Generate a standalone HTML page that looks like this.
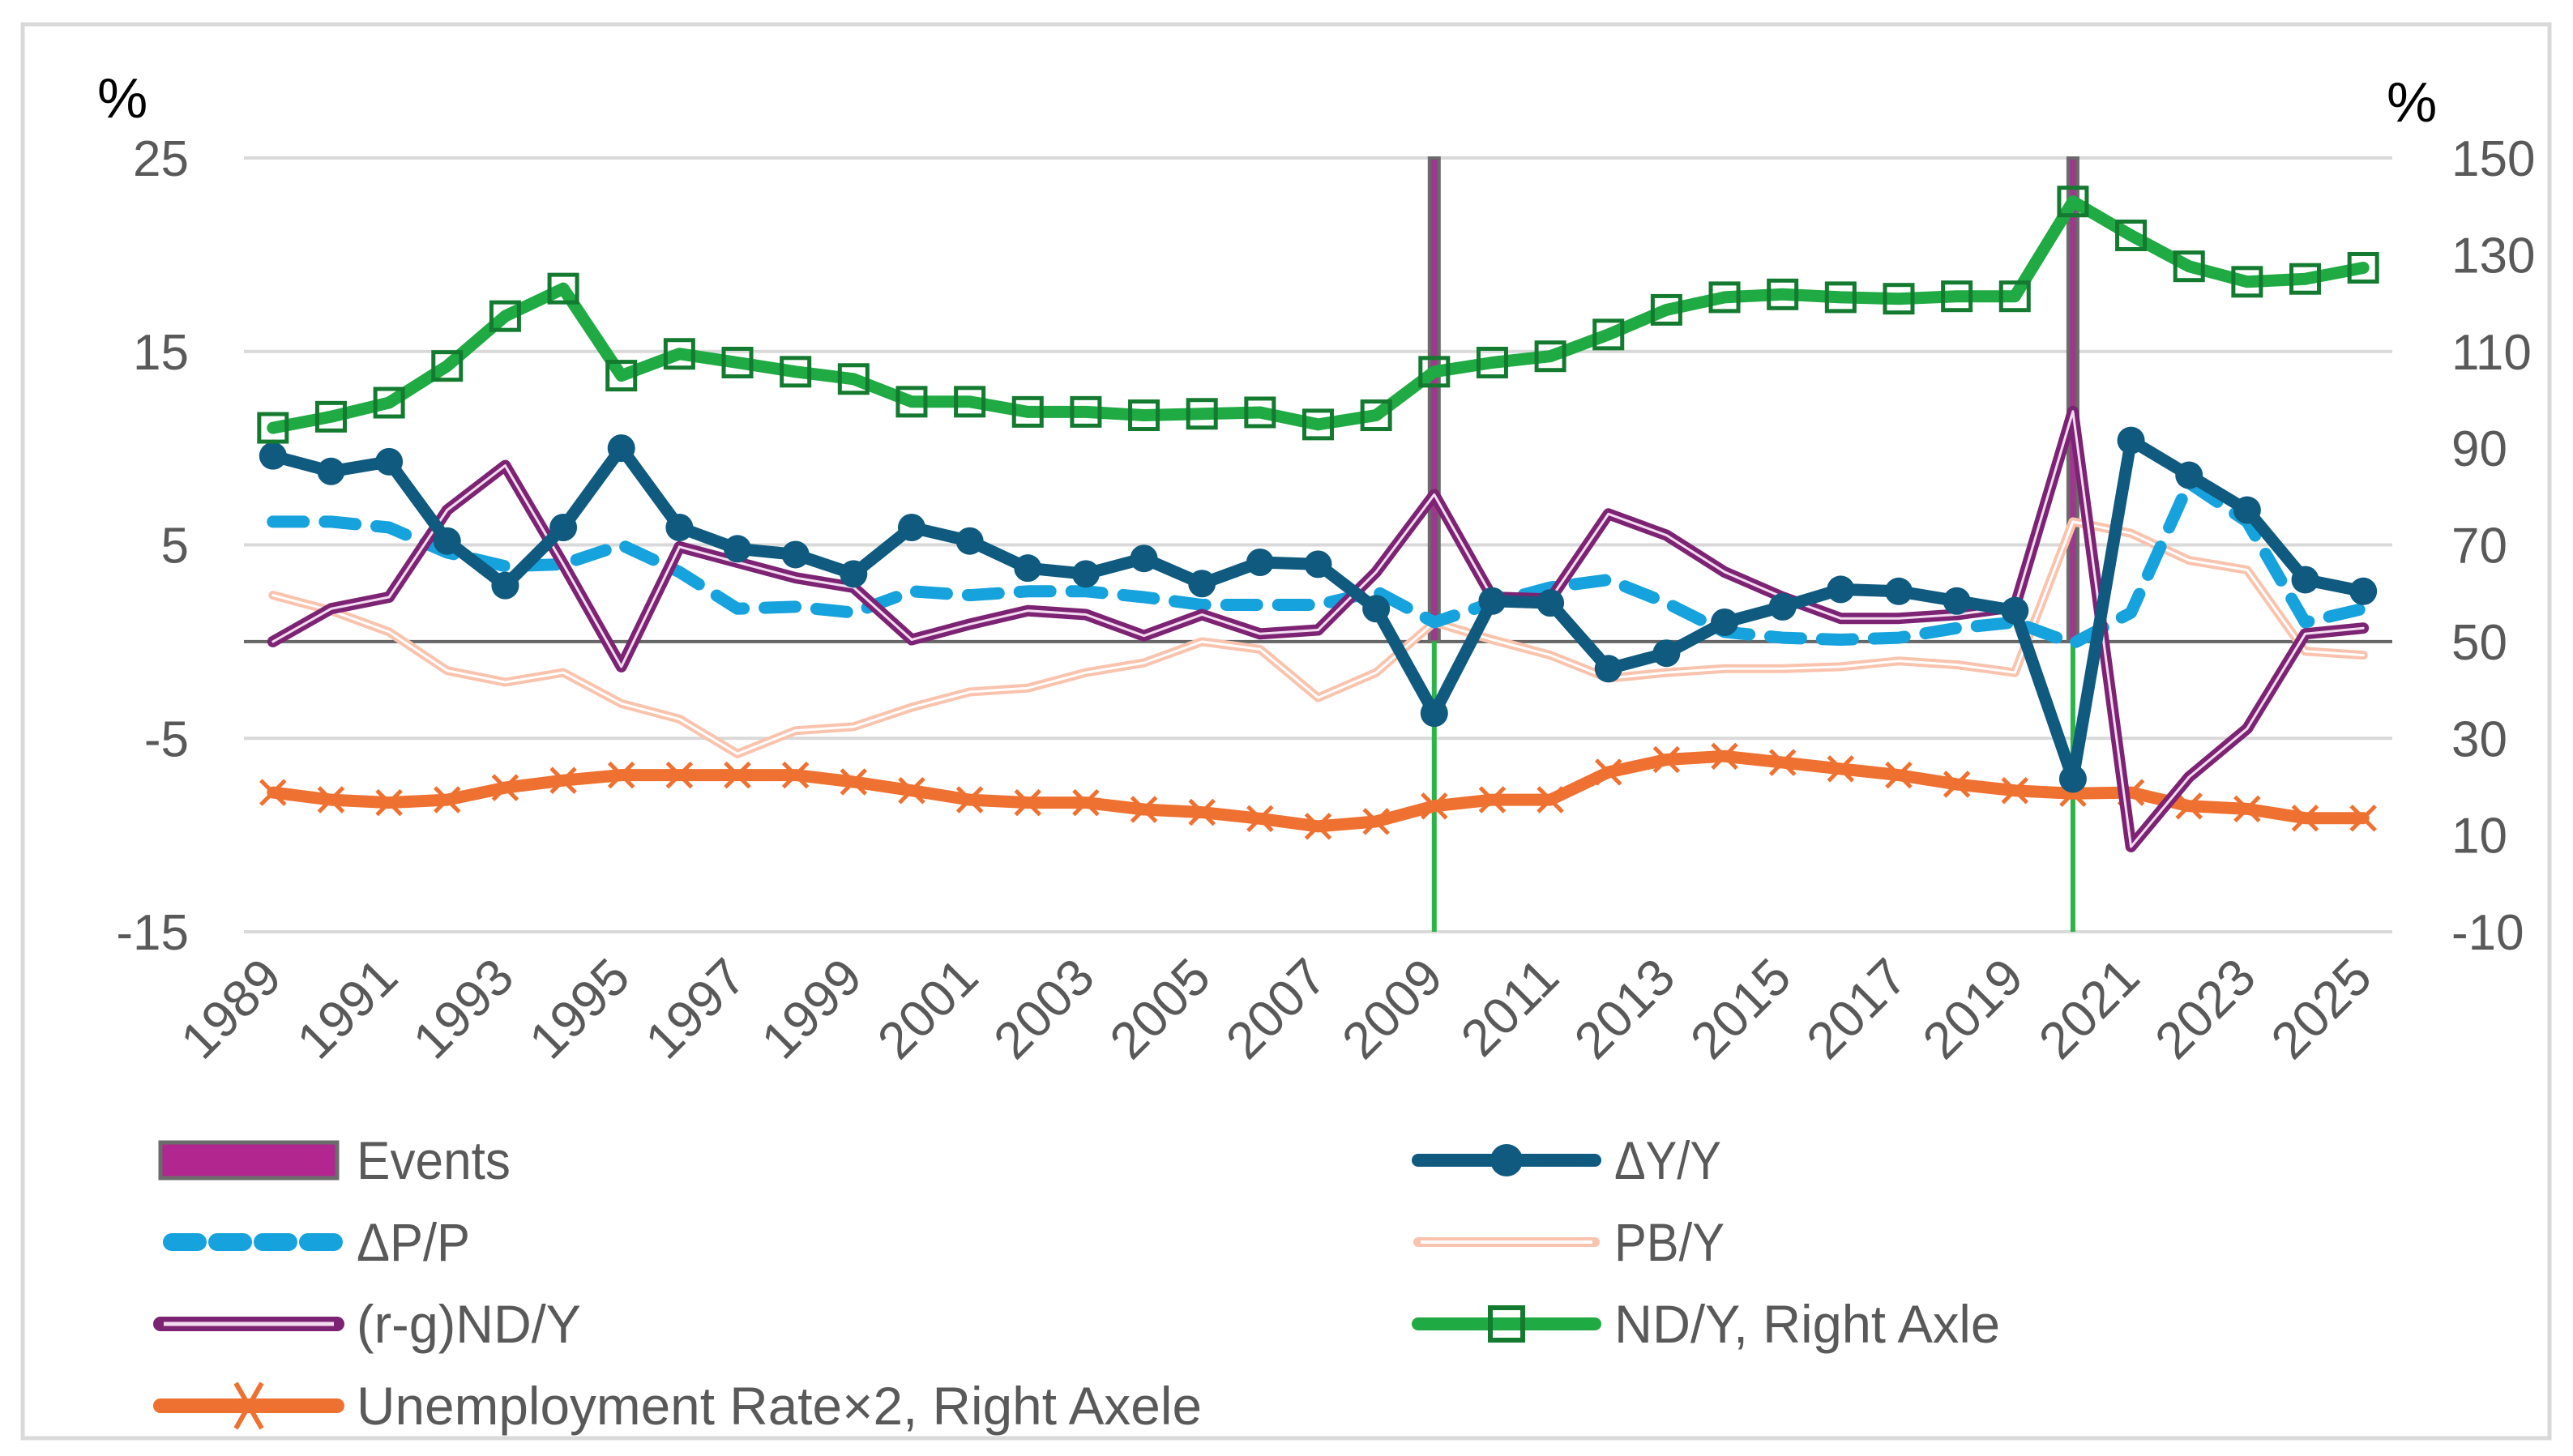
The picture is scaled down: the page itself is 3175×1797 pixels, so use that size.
<!DOCTYPE html>
<html><head><meta charset="utf-8"><style>
html,body{margin:0;padding:0;background:#fff;}
svg{display:block;font-family:"Liberation Sans",sans-serif;}
</style></head><body>
<svg id="chart" width="3175" height="1797" viewBox="0 0 3175 1797" xmlns="http://www.w3.org/2000/svg">
<rect x="28" y="30" width="3118" height="1745" fill="#fff" stroke="#d9d9d9" stroke-width="5"/>
<g id="grid"></g>
<g id="events"></g>
<g id="series"></g>
<g id="axes"></g>
<text x="120" y="145" font-size="70" fill="#000">%</text>
<text x="2945" y="150" font-size="70" fill="#000">%</text>
<g id="legend"></g>
</svg>
<script>
const years = [];
for (let y = 1989; y <= 2025; y++) years.push(y);
const leftTicks = [25, 15, 5, -5, -15];
const rightTicks = [150, 130, 110, 90, 70, 50, 30, 10, -10];
const eventYears = [2009, 2020];
const dY = [9.6,8.8,9.3,5.2,2.9,5.9,10.0,5.9,4.8,4.5,3.5,5.9,5.2,3.8,3.5,4.3,3.0,4.1,4.0,1.7,-3.7,2.1,2.0,-1.4,-0.6,1.0,1.8,2.7,2.6,2.1,1.6,-7.1,10.4,8.6,6.8,3.2,2.6];
const dP = [6.2,6.2,5.9,4.6,3.9,4.0,5.0,3.6,1.7,1.8,1.5,2.6,2.4,2.6,2.6,2.3,1.9,1.9,1.9,2.6,1.0,2.0,2.8,3.2,2.0,0.5,0.2,0.1,0.2,0.7,1.0,-0.1,1.5,8.2,6.2,1.0,1.7];
const pbY = [2.4,1.6,0.5,-1.5,-2.1,-1.6,-3.2,-4.0,-5.8,-4.6,-4.4,-3.4,-2.6,-2.4,-1.6,-1.1,0.0,-0.4,-2.9,-1.6,1.0,0.1,-0.7,-1.9,-1.6,-1.4,-1.4,-1.3,-1.0,-1.2,-1.6,6.2,5.6,4.2,3.7,-0.5,-0.7];
const rgND = [0.0,1.7,2.3,6.8,9.1,4.0,-1.3,4.9,4.1,3.3,2.8,0.1,0.9,1.6,1.4,0.3,1.4,0.4,0.6,3.6,7.6,2.3,2.2,6.6,5.5,3.6,2.3,1.2,1.2,1.4,1.8,11.9,-10.6,-7.0,-4.5,0.4,0.7];
const ndY = [94.2,96.5,99.4,107,117.3,123,105,109.5,107.7,105.8,104.3,99.6,99.6,97.5,97.5,96.8,97.1,97.4,94.9,96.8,105.8,107.7,109,113.5,118.6,121.2,121.8,121.2,120.9,121.4,121.4,141,134,127.6,124.4,125,127.3];
const unemp = [18.8,17.3,16.7,17.3,19.8,21.3,22.4,22.4,22.4,22.4,21,19.2,17.3,16.7,16.7,15.3,14.7,13.4,11.8,12.8,16,17.3,17.3,23,25.6,26.3,25,23.7,22.4,20.5,19.2,18.6,18.8,16,15.4,13.5,13.5];

const NS = "http://www.w3.org/2000/svg";
const PL = 301, PR = 2952, PT = 195, PB = 1150;
const step = (PR - PL) / years.length;
function xPos(i){ return PL + step * (i + 0.5); }
function yL(v){ return PT + (25 - v) / 40 * (PB - PT); }
function yR(v){ return PT + (150 - v) / 160 * (PB - PT); }
function mk(tag, attrs, parent){ const e = document.createElementNS(NS, tag); for (const k in attrs) e.setAttribute(k, attrs[k]); parent.appendChild(e); return e; }

const grid = document.getElementById('grid');
leftTicks.forEach(t => {
  const l = mk('line', {x1:PL, x2:PR, y1:yL(t), y2:yL(t), stroke:'#d9d9d9', 'stroke-width':4}, grid);
  
  
});
const zl = mk('line', {x1:PL, x2:PR, y1:yL(0), y2:yL(0), stroke:'#666', 'stroke-width':4}, grid);



const axes = document.getElementById('axes');
leftTicks.forEach(t => {
  const e = mk('text', {x:233, y:yL(t)+22, 'text-anchor':'end', 'font-size':62, fill:'#595959'}, axes);
  e.textContent = t;
  
  
});
rightTicks.forEach(t => {
  const e = mk('text', {x:3025, y:yR(t)+22, 'text-anchor':'start', 'font-size':62, fill:'#595959'}, axes);
  e.textContent = t;
  
  
});
years.forEach((y, i) => {
  if (i % 2) return;
  const x = xPos(i) + 14, yy = 1210;
  const e = mk('text', {x:x, y:yy, 'text-anchor':'end', 'font-size':64, fill:'#595959', transform:`rotate(-45 ${x} ${yy})`}, axes);
  e.textContent = y;
  
  
});

const ev = document.getElementById('events');
eventYears.forEach(y => {
  const i = years.indexOf(y), x = xPos(i);
  const r = mk('rect', {x:x-6, y:yL(25), width:12, height:yL(0)-yL(25), fill:'#9b3a8a', stroke:'#6b6b6b', 'stroke-width':4}, ev);
  
  
  const g = mk('line', {x1:x, x2:x, y1:yL(0), y2:PB, stroke:'#2db34a', 'stroke-width':6}, ev);
  
  
});

const ser = document.getElementById('series');
function pts(arr, f){ return arr.map((v,i) => xPos(i).toFixed(1)+','+f(v).toFixed(1)).join(' '); }
function line(arr, f, attrs, name){
  const p = mk('polyline', Object.assign({points:pts(arr,f), fill:'none', 'stroke-linejoin':'round', 'stroke-linecap':'round'}, attrs), ser);
  
  
  return p;
}
line(pbY, yL, {stroke:'#f9c3ad', 'stroke-width':11}, 'pb-y-line');
line(pbY, yL, {stroke:'#fff', 'stroke-width':3}, 'pb-y-line-inner');
line(unemp, yR, {stroke:'#ef7131', 'stroke-width':15}, 'unemployment-line');
unemp.forEach((v,i) => {
  const x = xPos(i), y = yR(v), s = 15;
  const p = mk('path', {d:`M${x-s},${y-s}L${x+s},${y+s}M${x-s},${y+s}L${x+s},${y-s}`, stroke:'#ef7131', 'stroke-width':5}, ser);
  
  
});
line(dP, yL, {stroke:'#16a2dc', 'stroke-width':15, 'stroke-dasharray':'38 26', 'stroke-linecap':'round'}, 'dp-p-line');
line(rgND, yL, {stroke:'#7c2373', 'stroke-width':14}, 'rg-nd-y-line');
line(rgND, yL, {stroke:'#f3dcef', 'stroke-width':3}, 'rg-nd-y-line-inner');
line(dY, yL, {stroke:'#0f5a7e', 'stroke-width':15}, 'dy-y-line');
dY.forEach((v,i) => {
  const c = mk('circle', {cx:xPos(i), cy:yL(v), r:17, fill:'#0f5a7e'}, ser);
  
  
});
line(ndY, yR, {stroke:'#1faa43', 'stroke-width':15}, 'nd-y-line');
ndY.forEach((v,i) => {
  const r = mk('rect', {x:xPos(i)-17, y:yR(v)-17, width:34, height:34, fill:'none', stroke:'#137a30', 'stroke-width':5}, ser);
  
  
});

const lg = document.getElementById('legend');
const legendItems = [
  {label:'Events', col:0, row:0, type:'event', w:190},
  {label:'ΔY/Y', col:1, row:0, type:'dy', w:132},
  {label:'ΔP/P', col:0, row:1, type:'dp', w:140},
  {label:'PB/Y', col:1, row:1, type:'pb', w:136},
  {label:'(r-g)ND/Y', col:0, row:2, type:'rg', w:277},
  {label:'ND/Y, Right Axle', col:1, row:2, type:'nd', w:476},
  {label:'Unemployment Rate×2, Right Axele', col:0, row:3, type:'un', w:1043}
];
legendItems.forEach(it => {
  const x0 = it.col ? 1750 : 198, x1 = x0 + 218, cy = 1432 + it.row * 101, xm = (x0+x1)/2;
  const g = mk('g', {}, lg);
  
  
  if (it.type === 'event') mk('rect', {x:x0, y:cy-22, width:218, height:44, fill:'#b1278f', stroke:'#6b6b6b', 'stroke-width':5}, g);
  if (it.type === 'dp') mk('line', {x1:x0+14, x2:x1, y1:cy, y2:cy, stroke:'#16a2dc', 'stroke-width':22, 'stroke-dasharray':'32 24', 'stroke-linecap':'round'}, g);
  if (it.type === 'rg') { mk('line', {x1:x0, x2:x1, y1:cy, y2:cy, stroke:'#7c2373', 'stroke-width':18, 'stroke-linecap':'round'}, g); mk('line', {x1:x0+4, x2:x1-4, y1:cy, y2:cy, stroke:'#f3dcef', 'stroke-width':5}, g); }
  if (it.type === 'un') { mk('line', {x1:x0, x2:x1, y1:cy, y2:cy, stroke:'#ef7131', 'stroke-width':18, 'stroke-linecap':'round'}, g); mk('path', {d:`M${xm-16},${cy-28}L${xm+16},${cy+28}M${xm-16},${cy+28}L${xm+16},${cy-28}`, stroke:'#ef7131', 'stroke-width':6}, g); }
  if (it.type === 'dy') { mk('line', {x1:x0, x2:x1, y1:cy, y2:cy, stroke:'#0f5a7e', 'stroke-width':16, 'stroke-linecap':'round'}, g); mk('circle', {cx:xm, cy:cy, r:20, fill:'#0f5a7e'}, g); }
  if (it.type === 'pb') { mk('line', {x1:x0, x2:x1, y1:cy, y2:cy, stroke:'#f9c3ad', 'stroke-width':12, 'stroke-linecap':'round'}, g); mk('line', {x1:x0+3, x2:x1-3, y1:cy, y2:cy, stroke:'#fff', 'stroke-width':4}, g); }
  if (it.type === 'nd') { mk('line', {x1:x0, x2:x1, y1:cy, y2:cy, stroke:'#1faa43', 'stroke-width':16, 'stroke-linecap':'round'}, g); mk('rect', {x:xm-20, y:cy-20, width:40, height:40, fill:'none', stroke:'#137a30', 'stroke-width':6}, g); }
  const t = mk('text', {x:x1+24, y:cy+23, 'font-size':66, fill:'#595959', textLength:it.w, lengthAdjust:'spacingAndGlyphs'}, g);
  t.textContent = it.label;
  
  
});
</script>
</body></html>
